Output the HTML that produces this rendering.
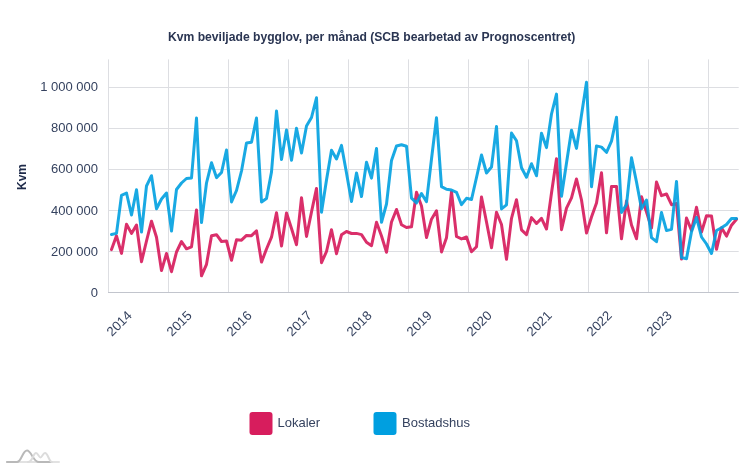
<!DOCTYPE html>
<html><head><meta charset="utf-8"><style>
html,body{margin:0;padding:0;background:#fff;width:754px;height:468px;overflow:hidden}
svg{display:block;will-change:transform}
text{font-family:"Liberation Sans",sans-serif}
.yl{font-size:13px;fill:#35425f}
.xl{font-size:13.2px;fill:#35425f}
.title{font-size:12.15px;font-weight:bold;fill:#2a3552}
.ytitle{font-size:12px;font-weight:bold;fill:#1f2b4a}
.lg{font-size:13px;fill:#35425f}
</style></head><body>
<svg width="754" height="468" viewBox="0 0 754 468">
<text x="168" y="40.7" class="title">Kvm beviljade bygglov, per månad (SCB bearbetad av Prognoscentret)</text>
<text transform="translate(25.9,190) rotate(-90)" class="ytitle">Kvm</text>
<line x1="108.5" y1="59.4" x2="108.5" y2="292" stroke="#dddee2" stroke-width="1"/>
<line x1="168.5" y1="59.4" x2="168.5" y2="292" stroke="#dddee2" stroke-width="1"/>
<line x1="228.5" y1="59.4" x2="228.5" y2="292" stroke="#dddee2" stroke-width="1"/>
<line x1="288.5" y1="59.4" x2="288.5" y2="292" stroke="#dddee2" stroke-width="1"/>
<line x1="348.5" y1="59.4" x2="348.5" y2="292" stroke="#dddee2" stroke-width="1"/>
<line x1="408.5" y1="59.4" x2="408.5" y2="292" stroke="#dddee2" stroke-width="1"/>
<line x1="468.5" y1="59.4" x2="468.5" y2="292" stroke="#dddee2" stroke-width="1"/>
<line x1="528.5" y1="59.4" x2="528.5" y2="292" stroke="#dddee2" stroke-width="1"/>
<line x1="588.5" y1="59.4" x2="588.5" y2="292" stroke="#dddee2" stroke-width="1"/>
<line x1="648.5" y1="59.4" x2="648.5" y2="292" stroke="#dddee2" stroke-width="1"/>
<line x1="708.5" y1="59.4" x2="708.5" y2="292" stroke="#dddee2" stroke-width="1"/>
<line x1="108" y1="87.5" x2="738.7" y2="87.5" stroke="#dddee2" stroke-width="1"/>
<line x1="108" y1="128.5" x2="738.7" y2="128.5" stroke="#dddee2" stroke-width="1"/>
<line x1="108" y1="169.5" x2="738.7" y2="169.5" stroke="#dddee2" stroke-width="1"/>
<line x1="108" y1="210.5" x2="738.7" y2="210.5" stroke="#dddee2" stroke-width="1"/>
<line x1="108" y1="251.5" x2="738.7" y2="251.5" stroke="#dddee2" stroke-width="1"/>
<line x1="108" y1="292.5" x2="738.7" y2="292.5" stroke="#c2c5cd" stroke-width="1"/>
<text x="98" y="91.3" text-anchor="end" class="yl">1 000 000</text>
<text x="98" y="132.3" text-anchor="end" class="yl">800 000</text>
<text x="98" y="173.4" text-anchor="end" class="yl">600 000</text>
<text x="98" y="214.5" text-anchor="end" class="yl">400 000</text>
<text x="98" y="255.9" text-anchor="end" class="yl">200 000</text>
<text x="98" y="297.1" text-anchor="end" class="yl">0</text>
<text transform="translate(112,337) rotate(-45)" class="xl">2014</text>
<text transform="translate(172,337) rotate(-45)" class="xl">2015</text>
<text transform="translate(232,337) rotate(-45)" class="xl">2016</text>
<text transform="translate(292,337) rotate(-45)" class="xl">2017</text>
<text transform="translate(352,337) rotate(-45)" class="xl">2018</text>
<text transform="translate(412,337) rotate(-45)" class="xl">2019</text>
<text transform="translate(472,337) rotate(-45)" class="xl">2020</text>
<text transform="translate(532,337) rotate(-45)" class="xl">2021</text>
<text transform="translate(592,337) rotate(-45)" class="xl">2022</text>
<text transform="translate(652,337) rotate(-45)" class="xl">2023</text>
<polyline points="111.50,249.60 116.50,235.80 121.50,253.40 126.50,224.20 131.50,233.40 136.50,225.00 141.50,261.70 146.50,241.00 151.50,221.20 156.50,237.30 161.50,270.60 166.50,253.50 171.50,271.70 176.50,252.00 181.50,241.50 186.50,248.80 191.50,246.90 196.50,209.90 201.50,275.80 206.50,264.30 211.50,235.80 216.50,234.70 221.50,241.50 226.50,241.00 231.50,260.30 236.50,239.80 241.50,240.20 246.50,235.40 251.50,235.70 256.50,230.90 261.50,262.10 266.50,249.00 271.50,237.20 276.50,212.70 281.50,246.00 286.50,213.00 291.50,228.50 296.50,244.70 301.50,197.70 306.50,236.40 311.50,212.00 316.50,188.40 321.50,262.70 326.50,251.50 331.50,229.70 336.50,253.70 341.50,234.80 346.50,231.50 351.50,233.50 356.50,233.40 361.50,234.60 366.50,242.30 371.50,245.70 376.50,222.30 381.50,236.00 386.50,252.30 391.50,222.00 396.50,209.50 401.50,224.70 406.50,227.50 411.50,226.80 416.50,192.30 421.50,206.00 426.50,237.50 431.50,219.20 436.50,210.80 441.50,251.90 446.50,237.70 451.50,191.70 456.50,236.50 461.50,238.90 466.50,237.00 471.50,251.80 476.50,246.80 481.50,197.00 486.50,222.00 491.50,247.80 496.50,212.20 501.50,224.50 506.50,259.30 511.50,218.30 516.50,199.70 521.50,229.80 526.50,234.60 531.50,217.60 536.50,223.50 541.50,218.40 546.50,229.00 551.50,193.00 556.50,158.70 561.50,229.70 566.50,208.10 571.50,197.90 576.50,179.00 581.50,200.00 586.50,233.00 591.50,217.00 596.50,203.00 601.50,172.80 606.50,232.80 611.50,186.50 616.50,186.50 621.50,238.80 626.50,201.00 631.50,225.00 636.50,238.80 641.50,196.80 646.50,212.00 651.50,228.00 656.50,182.00 661.50,195.70 666.50,194.00 671.50,204.70 676.50,203.50 681.50,259.10 686.50,218.00 691.50,230.40 696.50,207.20 701.50,232.10 706.50,215.80 711.50,216.00 716.50,249.30 721.50,227.80 726.50,236.10 731.50,225.20 736.50,219.20" fill="none" stroke="#d71d5d" stroke-opacity="0.92" stroke-width="3" stroke-linejoin="round" stroke-linecap="round"/>
<polyline points="111.50,234.50 116.50,233.40 121.50,195.40 126.50,193.00 131.50,215.00 136.50,189.80 141.50,232.00 146.50,186.00 151.50,175.70 156.50,208.70 161.50,199.00 166.50,193.00 171.50,231.00 176.50,189.50 181.50,183.00 186.50,178.50 191.50,178.00 196.50,118.00 201.50,222.60 206.50,183.00 211.50,162.80 216.50,177.60 221.50,172.50 226.50,150.00 231.50,201.90 236.50,190.50 241.50,171.00 246.50,143.00 251.50,142.30 256.50,118.00 261.50,202.00 266.50,198.50 271.50,172.00 276.50,111.00 281.50,159.50 286.50,130.00 291.50,160.20 296.50,128.30 301.50,153.00 306.50,126.00 311.50,117.50 316.50,97.80 321.50,212.30 326.50,180.00 331.50,150.20 336.50,159.00 341.50,145.40 346.50,173.00 351.50,201.40 356.50,172.90 361.50,196.60 366.50,162.20 371.50,178.10 376.50,148.40 381.50,222.30 386.50,204.00 391.50,160.40 396.50,146.00 401.50,144.80 406.50,146.20 411.50,198.10 416.50,202.90 421.50,193.50 426.50,201.70 431.50,159.00 436.50,117.80 441.50,186.60 446.50,189.30 451.50,190.00 456.50,192.30 461.50,204.70 466.50,198.30 471.50,199.50 476.50,177.50 481.50,155.00 486.50,173.00 491.50,167.00 496.50,126.40 501.50,208.90 506.50,204.90 511.50,133.00 516.50,140.80 521.50,167.80 526.50,177.20 531.50,163.70 536.50,175.80 541.50,133.30 546.50,147.60 551.50,114.00 556.50,94.10 561.50,196.20 566.50,163.00 571.50,130.20 576.50,148.40 581.50,115.00 586.50,82.20 591.50,186.70 596.50,145.90 601.50,147.10 606.50,152.30 611.50,141.10 616.50,117.20 621.50,212.50 626.50,204.60 631.50,157.80 636.50,182.00 641.50,208.70 646.50,200.00 651.50,237.70 656.50,241.70 661.50,212.60 666.50,230.60 671.50,229.40 676.50,181.40 681.50,257.50 686.50,258.70 691.50,231.70 696.50,217.50 701.50,237.00 706.50,244.00 711.50,253.50 716.50,230.50 721.50,227.80 726.50,224.50 731.50,218.50 736.50,218.50" fill="none" stroke="#00a0e0" stroke-opacity="0.9" stroke-width="3" stroke-linejoin="round" stroke-linecap="round"/>
<rect x="249.5" y="412" width="23" height="23" rx="3" fill="#d71d5d"/>
<text x="277.5" y="426.8" class="lg">Lokaler</text>
<rect x="373.5" y="412" width="23" height="23" rx="3" fill="#009fe0"/>
<text x="402" y="427.2" class="lg">Bostadshus</text>
<g fill="none" stroke-width="2" stroke-linecap="round">
<path d="M7,462 L59,462" stroke="#e2e2e2"/>
<path d="M7,462 L17,462 C21.5,462 22.5,450.5 27,450.5 C31.5,450.5 33,462 39,462 L51,462" stroke="#b9b9b9"/>
<path d="M28,462 C33,462 33,453 36,453 C38,453 39,457.5 40.5,457.5 C42,457.5 43,453 45,453 C48,453 49,462 52,462" stroke="#dcdcdc"/>
</g>
</svg>
</body></html>
